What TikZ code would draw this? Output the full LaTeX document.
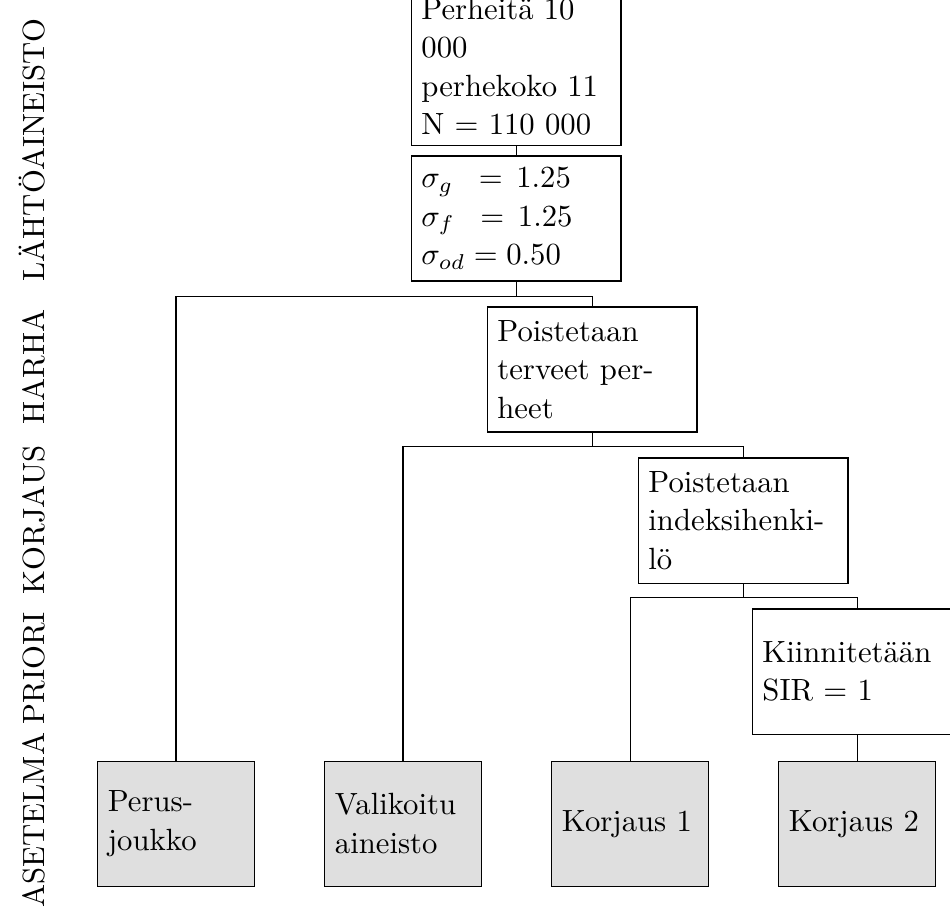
\documentclass[tikz,border=0pt]{standalone}
\usepackage{fontspec}
\usepackage{amsmath}

\begin{document}
\begin{tikzpicture}
\tikzstyle{BoxStyle}=[
shape = rectangle,
draw,
minimum height = 1.432cm,
inner sep = 3.33pt,
text width = 61.7pt,
align = left,
font = \fontsize{10}{12.5}\selectfont]
\tikzstyle{LeafStyle}=[
BoxStyle,
text width = 44.4pt,
fill = gray!25]
\tikzstyle{SideStyle}=[
rotate = 90,
anchor = base,
font = \fontsize{10}{12.5}\selectfont]
\useasboundingbox (0,0) rectangle (10.876,10.406);
% side labels
\node[SideStyle] (lab1) at (0.515, 8.688) {LÄHTÖAINEISTO};
\node[SideStyle] (lab2) at (0.515, 6.204) {HARHA};
\node[SideStyle] (lab3) at (0.515, 4.452) {KORJAUS};
\node[SideStyle] (lab4) at (0.515, 2.757) {PRIORI};
\node[SideStyle] (lab5) at (0.515, 1.016) {ASETELMA};
% steps
\node[BoxStyle, anchor = south] (box1) at (5.909, 8.734) {Perheitä 10\\000\\perhekoko 11\\N $=$ 110 000};
\node[BoxStyle] (box2) at (5.909, 7.904) {$\sigma_g\;\;= \,1.25$\\$\sigma_f\;\;= \,1.25$\\$\sigma_{od} = 0.50$};
\node[BoxStyle] (box3) at (6.779, 6.175) {Poistetaan\\terveet per-\\heet};
\node[BoxStyle] (box4) at (8.508, 4.446) {Poistetaan\\indeksihenki-\\lö};
\node[BoxStyle] (box5) at (9.813, 2.717) {Kiinnitetään\\SIR $=$ 1};
% results
\node[LeafStyle] (out1) at (2.015, 0.976) {Perus-\\joukko};
\node[LeafStyle] (out2) at (4.615, 0.976) {Valikoitu\\aineisto};
\node[LeafStyle] (out3) at (7.214, 0.976) {Korjaus 1};
\node[LeafStyle] (out4) at (9.813, 0.976) {Korjaus 2};
% connectors
\draw (box1.south) -- (box2.north);
\draw (box2.south) -- ++(0,-0.171) coordinate (c1);
\draw (c1) -| (out1.north);
\draw (c1) -| (box3.north);
\draw (box3.south) -- ++(0,-0.16) coordinate (c2);
\draw (c2) -| (out2.north);
\draw (c2) -| (box4.north);
\draw (box4.south) -- ++(0,-0.16) coordinate (c3);
\draw (c3) -| (out3.north);
\draw (c3) -| (box5.north);
\draw (box5.south) -- (out4.north);
\end{tikzpicture}
\end{document}
